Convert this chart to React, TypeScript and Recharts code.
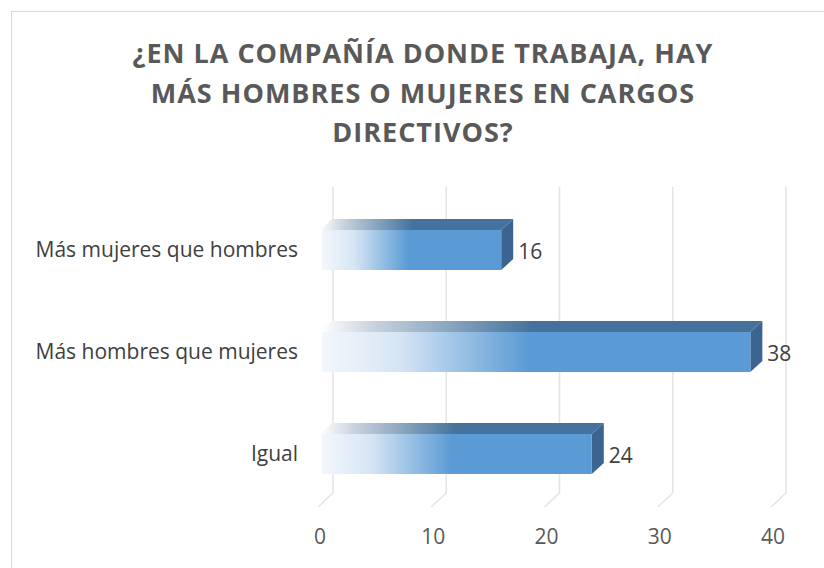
import React from 'react';
import { BarChart, Bar, XAxis, YAxis, CartesianGrid, LabelList } from 'recharts';

const categories = ['Más mujeres que hombres', 'Más hombres que mujeres', 'Igual'];
const values = [16, 38, 24];
const xTicks = [0, 10, 20, 30, 40];

const data = categories.map((name, i) => ({ name, value: values[i] }));

const W = 824;
const H = 568;
const PLOT_TOP = 199;
const PLOT_BOTTOM = 505;
const PLOT_LEFT = 320;
const PLOT_RIGHT = 773;

// depth offsets for the fake 3D
const BAR_DX = 12;
const BAR_DY = -11;
const WALL_DX = 14;
const WALL_DY = -14;

const FONT = '"Open Sans", "DejaVu Sans", sans-serif';

// back wall line + diagonal across the floor, drawn behind the bars
const GridLine = (props: any) => {
  const { x1 } = props;
  const back = x1 + WALL_DX - 1;
  const front = x1 - 2;
  const floorFront = PLOT_BOTTOM + 2;
  const floorBack = floorFront + WALL_DY;
  return (
    <path
      key={`g-${x1}`}
      d={`M${back},187 L${back},${floorBack} L${front},${floorFront}`}
      fill="none"
      stroke="#e4e4e4"
      strokeWidth={1.5}
    />
  );
};

const XTick = (props: any) => {
  const { x, payload } = props;
  return (
    <text x={x} y={537} dy="0.35em" textAnchor="middle" fill="#595959" fontSize={21} fontFamily={FONT}>
      {payload.value}
    </text>
  );
};

const YTick = (props: any) => {
  const { y, payload } = props;
  return (
    <text x={298} y={y} dy="0.35em" textAnchor="end" fill="#404040" fontSize={21} fontFamily={FONT}>
      {payload.value}
    </text>
  );
};

const Bar3D = (props: any) => {
  const { x, y, width, height } = props;
  const dx = BAR_DX;
  const dy = BAR_DY;
  const top = `M${x},${y} L${x + dx},${y + dy} L${x + width + dx},${y + dy} L${x + width},${y} Z`;
  const side = `M${x + width},${y} L${x + width + dx},${y + dy} L${x + width + dx},${y + height + dy} L${x + width},${y + height} Z`;
  return (
    <g>
      <path d={top} fill="url(#topGrad)" />
      <path d={side} fill="#3b6590" />
      <rect x={x + 2} y={y} width={width - 2} height={height} fill="url(#frontGrad)" />
    </g>
  );
};

const ValueLabel = (props: any) => {
  const { x, y, width, height, value } = props;
  return (
    <text
      x={x + width + BAR_DX + 5}
      y={y + height / 2 + 2}
      dy="0.35em"
      fill="#404040"
      fontSize={21}
      fontFamily={FONT}
    >
      {value}
    </text>
  );
};

export default function App() {
  return (
    <div style={{ position: 'absolute', left: 0, top: 0, width: W, height: H, background: '#fff', overflow: 'hidden' }}>
      <div
        style={{
          position: 'absolute',
          left: 11,
          top: 11,
          width: W,
          height: H,
          border: '1px solid #d9d9d9',
          boxSizing: 'border-box',
        }}
      />
      <div
        style={{
          position: 'absolute',
          left: 11,
          top: 33,
          width: W,
          textAlign: 'center',
          fontFamily: FONT,
          fontWeight: 700,
          fontSize: 27,
          lineHeight: '39.5px',
          letterSpacing: 1,
          color: '#595959',
        }}
      >
        ¿EN LA COMPAÑÍA DONDE TRABAJA, HAY
        <br />
        MÁS HOMBRES O MUJERES EN CARGOS
        <br />
        DIRECTIVOS?
      </div>
      <div style={{ position: 'absolute', left: 0, top: 0 }}>
        <BarChart
          width={W}
          height={H}
          data={data}
          layout="vertical"
          margin={{ top: PLOT_TOP, right: W - PLOT_RIGHT, bottom: H - PLOT_BOTTOM - 30, left: 0 }}
          barCategoryGap={62}
        >
          <defs>
            <linearGradient id="frontGrad" x1="0" y1="0" x2="1" y2="0">
              <stop offset="0%" stopColor="#f3f7fc" />
              <stop offset="18%" stopColor="#d6e5f4" />
              <stop offset="48%" stopColor="#5b9bd5" />
              <stop offset="100%" stopColor="#5b9bd5" />
            </linearGradient>
            <linearGradient id="topGrad" x1="0" y1="0" x2="1" y2="0">
              <stop offset="0%" stopColor="#ffffff" />
              <stop offset="12%" stopColor="#c9d3dd" />
              <stop offset="48%" stopColor="#44729d" />
              <stop offset="100%" stopColor="#44729d" />
            </linearGradient>
          </defs>
          <CartesianGrid horizontal={false} vertical={(p: any) => <GridLine {...p} />} />
          <XAxis
            type="number"
            domain={[0, 40]}
            ticks={xTicks}
            axisLine={false}
            tickLine={false}
            tick={<XTick />}
            height={30}
            interval={0}
          />
          <YAxis
            type="category"
            dataKey="name"
            width={PLOT_LEFT}
            axisLine={false}
            tickLine={false}
            tick={<YTick />}
            interval={0}
          />
          <Bar dataKey="value" barSize={40} shape={<Bar3D />} isAnimationActive={false}>
            <LabelList dataKey="value" content={<ValueLabel />} />
          </Bar>
        </BarChart>
      </div>
    </div>
  );
}
